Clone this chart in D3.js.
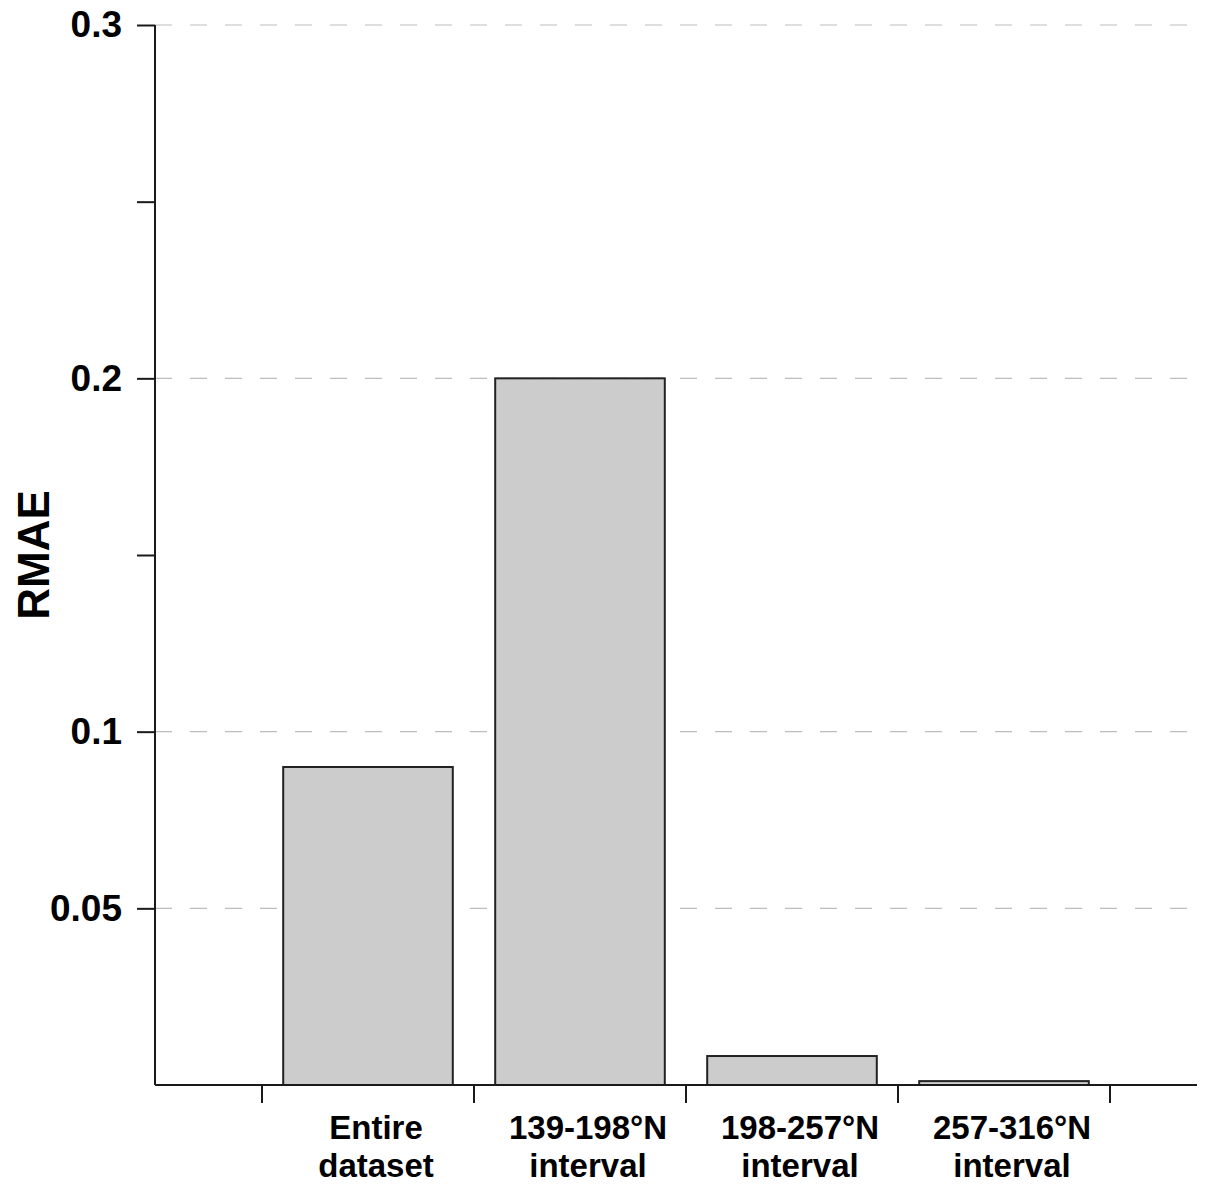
<!DOCTYPE html>
<html>
<head>
<meta charset="utf-8">
<script src="https://cdn.jsdelivr.net/npm/d3@7"></script>
<style>
  html, body { margin: 0; padding: 0; background: #fff; }
  svg { display: block; }
  text { font-family: "Liberation Sans", Arial, Helvetica, sans-serif; font-weight: bold; fill: #000; }
</style>
</head>
<body>
<svg id="chart" width="1223" height="1191"></svg>
<script>
const categories = [
  ["Entire", "dataset"],
  ["139-198°N", "interval"],
  ["198-257°N", "interval"],
  ["257-316°N", "interval"]
];
const values = [0.090, 0.200, 0.0082, 0.0011];
const yTicks = [0.05, 0.10, 0.15, 0.20, 0.25, 0.30];
const yTickLabels = ["0.05", "0.1", "", "0.2", "", "0.3"];
const gridValues = [0.05, 0.10, 0.20, 0.30];
const yTitle = "RMAE";

const svg = d3.select("#chart");
const axisX = 155, plotTop = 25, plotBottom = 1085, plotRight = 1197;

const keys = categories.map(c => c.join(" "));
const x = d3.scaleBand().domain(keys).range([262, 1110]).paddingInner(0.2).paddingOuter(0.1);
const y = d3.scaleLinear().domain([0, 0.3]).range([plotBottom, plotTop]);

// grid lines (behind bars)
svg.append("g").selectAll("line").data(gridValues).join("line")
  .attr("x1", axisX).attr("x2", plotRight)
  .attr("y1", d => y(d)).attr("y2", d => y(d))
  .attr("stroke", "#bdbdbd").attr("stroke-width", 1.2)
  .attr("stroke-dasharray", "17,18");

// bars
svg.append("g").selectAll("rect").data(values).join("rect")
  .attr("x", (d, i) => x(keys[i]))
  .attr("width", x.bandwidth())
  .attr("y", d => y(d))
  .attr("height", d => y(0) - y(d))
  .attr("fill", "#cccccc")
  .attr("stroke", "#222")
  .attr("stroke-width", 2);

// y axis
const yAxis = d3.axisLeft(y).tickValues(yTicks).tickSize(18).tickPadding(15)
  .tickFormat((d, i) => yTickLabels[i]);
const gy = svg.append("g").attr("transform", `translate(${axisX},0)`).call(yAxis);
gy.select(".domain").remove();
gy.append("line").attr("x1", 0).attr("x2", 0).attr("y1", plotTop).attr("y2", plotBottom)
  .attr("stroke", "#1a1a1a").attr("stroke-width", 2);
gy.selectAll(".tick line").attr("stroke", "#1a1a1a").attr("stroke-width", 2);
gy.selectAll(".tick text").style("font-size", "37px").style("font-weight", "bold")
  .style("font-family", '"Liberation Sans", Arial, sans-serif').attr("fill", "#000");

// x axis line
svg.append("line").attr("x1", axisX).attr("x2", plotRight).attr("y1", plotBottom).attr("y2", plotBottom)
  .attr("stroke", "#1a1a1a").attr("stroke-width", 2);

// x ticks at band boundaries
const gap = x.step() * x.paddingInner() / 2;
const boundaries = keys.map(k => x(k) - gap).concat([x(keys[keys.length - 1]) + x.bandwidth() + gap]);
svg.append("g").selectAll("line").data(boundaries).join("line")
  .attr("x1", d => d).attr("x2", d => d)
  .attr("y1", plotBottom).attr("y2", plotBottom + 18)
  .attr("stroke", "#1a1a1a").attr("stroke-width", 2);

// x labels
const lab = svg.append("g").selectAll("text").data(categories).join("text")
  .attr("text-anchor", "middle")
  .style("font-size", "33px");
lab.each(function(d, i) {
  const cx = x(keys[i]) + x.bandwidth() / 2 + 8;
  const t = d3.select(this);
  d.forEach((line, j) => {
    t.append("tspan").attr("x", cx).attr("y", 1139 + j * 38).text(line);
  });
});

// y title
svg.append("text")
  .attr("transform", `translate(49,555) rotate(-90)`)
  .attr("text-anchor", "middle")
  .style("font-size", "44px")
  .text(yTitle);
</script>
</body>
</html>
